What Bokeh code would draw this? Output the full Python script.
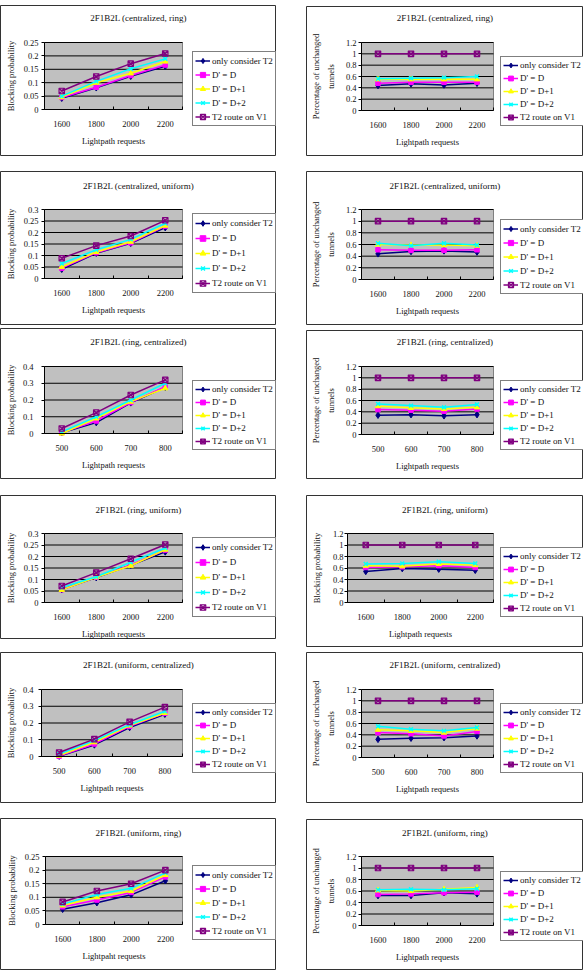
from bokeh.plotting import figure
from bokeh.models import (Range1d, FixedTicker, NumeralTickFormatter, LinearAxis,
                          Legend, LegendItem, Label, Spacer)
from bokeh.layouts import row, column
from bokeh.embed import file_html
from bokeh.resources import INLINE

# ---------------------------------------------------------------- data
SERIES = ["only consider T2", "D' = D", "D' = D+1", "D' = D+2", "T2 route on V1"]

REQUESTS_A = ["1600", "1800", "2000", "2200"]
REQUESTS_B = ["500", "600", "700", "800"]

TICKS_025 = [0, 0.05, 0.1, 0.15, 0.2, 0.25]
TICKS_03 = [0, 0.05, 0.1, 0.15, 0.2, 0.25, 0.3]
TICKS_04 = [0, 0.1, 0.2, 0.3, 0.4]
TICKS_12 = [0, 0.2, 0.4, 0.6, 0.8, 1, 1.2]

# each list holds the five series in SERIES order
centralized_ring_block = [
    [0.042, 0.081, 0.124, 0.161],
    [0.045, 0.083, 0.127, 0.166],
    [0.046, 0.100, 0.135, 0.179],
    [0.050, 0.105, 0.152, 0.189],
    [0.069, 0.123, 0.171, 0.209],
]
centralized_ring_unchanged = [
    [0.44, 0.47, 0.45, 0.48],
    [0.48, 0.50, 0.50, 0.50],
    [0.55, 0.55, 0.55, 0.55],
    [0.56, 0.57, 0.58, 0.60],
    [1.00, 1.00, 1.00, 1.00],
]
centralized_uniform_block = [
    [0.040, 0.110, 0.153, 0.221],
    [0.045, 0.112, 0.155, 0.228],
    [0.050, 0.115, 0.160, 0.230],
    [0.065, 0.125, 0.170, 0.240],
    [0.088, 0.143, 0.185, 0.253],
]
centralized_uniform_unchanged = [
    [0.44, 0.48, 0.49, 0.47],
    [0.51, 0.50, 0.50, 0.51],
    [0.60, 0.59, 0.59, 0.58],
    [0.62, 0.58, 0.62, 0.59],
    [1.00, 1.00, 1.00, 1.00],
]
ring_centralized_block = [
    [0.005, 0.065, 0.183, 0.276],
    [0.005, 0.075, 0.185, 0.280],
    [0.000, 0.090, 0.190, 0.270],
    [0.010, 0.100, 0.200, 0.300],
    [0.030, 0.125, 0.230, 0.320],
]
ring_centralized_unchanged = [
    [0.34, 0.35, 0.33, 0.35],
    [0.44, 0.43, 0.41, 0.45],
    [0.50, 0.47, 0.45, 0.48],
    [0.54, 0.51, 0.48, 0.53],
    [1.00, 1.00, 1.00, 1.00],
]
ring_uniform_block = [
    [0.056, 0.108, 0.162, 0.220],
    [0.056, 0.110, 0.163, 0.228],
    [0.055, 0.110, 0.160, 0.230],
    [0.065, 0.112, 0.175, 0.237],
    [0.072, 0.130, 0.190, 0.252],
]
ring_uniform_unchanged = [
    [0.54, 0.59, 0.58, 0.56],
    [0.61, 0.62, 0.64, 0.61],
    [0.64, 0.63, 0.67, 0.65],
    [0.67, 0.68, 0.71, 0.68],
    [1.00, 1.00, 1.00, 1.00],
]
uniform_centralized_block = [
    [0.002, 0.069, 0.173, 0.252],
    [0.002, 0.075, 0.180, 0.258],
    [0.005, 0.085, 0.185, 0.260],
    [0.015, 0.095, 0.190, 0.270],
    [0.024, 0.104, 0.207, 0.295],
]
uniform_centralized_unchanged = [
    [0.32, 0.34, 0.35, 0.38],
    [0.44, 0.42, 0.38, 0.46],
    [0.49, 0.47, 0.44, 0.51],
    [0.55, 0.50, 0.47, 0.53],
    [1.00, 1.00, 1.00, 1.00],
]
uniform_ring_block = [
    [0.056, 0.080, 0.109, 0.161],
    [0.065, 0.090, 0.118, 0.175],
    [0.070, 0.100, 0.123, 0.182],
    [0.075, 0.110, 0.133, 0.190],
    [0.083, 0.123, 0.150, 0.200],
]
uniform_ring_unchanged = [
    [0.52, 0.52, 0.57, 0.55],
    [0.54, 0.55, 0.57, 0.58],
    [0.61, 0.60, 0.63, 0.66],
    [0.62, 0.63, 0.62, 0.64],
    [1.00, 1.00, 1.00, 1.00],
]

# ---------------------------------------------------------------- styling
FONT = "Liberation Serif"
FS = "8.5px"
INK = "#111111"
STYLES = [
    dict(color="#000080", marker="diamond", size=6.5, lw=1, fill=1.0),
    dict(color="#FF00FF", marker="square", size=4.5, lw=1, fill=1.0),
    dict(color="#FFFF00", marker="triangle", size=5.5, lw=1, fill=1.0),
    dict(color="#00FFFF", marker="x", size=5.5, lw=1.5, fill=1.0),
    dict(color="#800080", marker="square_x", size=5.5, lw=1.1, fill=0.25),
]
BLOCK = "Blocking probability"
UNCH = "Percentage of unchanged\ntunnels"
XLAB = "Lightpath requests"


def chart(title, cats, xlabel, ylabel, ymax, ticks, data, w, h, pl, pr, pt, pb,
          lx, ltop, lbot, ty, s1, s2):
    ncat = len(cats)
    xpos = [i + 0.5 for i in range(ncat)]
    # the frame covers the whole chart box; the plot area is the band 0..ncat x 0..ymax
    kx = ncat / (pr - pl)
    ky = ymax / (pb - pt)
    p = figure(width=w, height=h, output_backend="svg", toolbar_location=None,
               x_range=Range1d(-pl * kx, (w - pl) * kx),
               y_range=Range1d(-(h - pb) * ky, ymax + pt * ky),
               x_axis_type=None, y_axis_type=None,
               min_border=0, min_border_left=0, min_border_right=0,
               min_border_top=0, min_border_bottom=0)
    p.background_fill_color = "white"
    p.border_fill_color = "white"
    p.outline_line_color = "#333333"
    p.outline_line_width = 1
    p.xgrid.visible = False
    p.ygrid.visible = False

    # gray plot area and its horizontal gridlines
    p.quad(left=0, right=ncat, bottom=0, top=ymax, fill_color="#C0C0C0",
           line_color="#808080", line_width=1)
    gl = [t for t in ticks if t > 0]
    p.segment(x0=[0] * len(gl), x1=[ncat] * len(gl), y0=gl, y1=gl,
              line_color="black", line_width=1)

    xa = LinearAxis(fixed_location=0, bounds=(0, ncat),
                    ticker=FixedTicker(ticks=xpos, minor_ticks=list(range(ncat + 1))),
                    major_label_overrides=dict(zip(xpos, cats)))
    xa.axis_label = xlabel
    xa.major_tick_line_color = None
    xa.major_tick_out = 0
    xa.major_tick_in = 0
    xa.minor_tick_line_color = "black"
    xa.minor_tick_in = 3
    xa.minor_tick_out = 0
    xa.major_label_standoff = 11
    xa.axis_label_standoff = 6

    ya = LinearAxis(fixed_location=0, bounds=(0, ymax), ticker=FixedTicker(ticks=ticks),
                    formatter=NumeralTickFormatter(format="0.[00]"))
    ya.axis_label = ylabel
    ya.minor_tick_line_color = None
    ya.major_tick_line_color = "black"
    ya.major_tick_out = 3
    ya.major_tick_in = 0
    ya.major_label_standoff = s1
    ya.axis_label_standoff = s2
    ya.axis_label_text_line_height = 1.5

    for ax in (xa, ya):
        ax.axis_line_color = "black"
        ax.major_label_text_font = FONT
        ax.major_label_text_font_size = FS
        ax.major_label_text_color = INK
        ax.axis_label_text_font = FONT
        ax.axis_label_text_font_size = FS
        ax.axis_label_text_font_style = "normal"
        ax.axis_label_text_color = INK
    p.add_layout(xa, "below")
    p.add_layout(ya, "left")

    items = []
    for name, ys, st in zip(SERIES, data, STYLES):
        lr = p.line(xpos, ys, line_color=st["color"], line_width=1.5)
        sr = p.scatter(xpos, ys, marker=st["marker"], size=st["size"],
                       line_color=st["color"], fill_color=st["color"],
                       fill_alpha=st["fill"], line_width=st["lw"])
        items.append(LegendItem(label=name, renderers=[lr, sr]))

    n = len(SERIES)
    pad, sp = 2, 1
    item_h = int(round((lbot - ltop - 2 * pad - (n - 1) * sp) / n))
    leg = Legend(items=items, location=(lx, h - lbot), margin=0, padding=pad,
                 spacing=sp, glyph_width=15, glyph_height=item_h, label_height=item_h,
                 label_standoff=2, border_line_color="black", border_line_width=1,
                 background_fill_color="white", background_fill_alpha=1,
                 label_text_font=FONT, label_text_font_size="9px", label_text_color=INK)
    p.add_layout(leg, "center")

    p.add_layout(Label(x=w / 2, y=h - ty, x_units="screen", y_units="screen",
                       text=title, text_align="center", text_baseline="middle",
                       text_font=FONT, text_font_size="9px", text_color=INK))
    return p


L = dict(w=276, pl=44, pr=182, lx=192, s1=3, s2=5)
R = dict(w=277, pl=55, pr=187, lx=194, s1=2, s2=7)

left_specs = [
    dict(L, title="2F1B2L (centralized, ring)", cats=REQUESTS_A, xlabel=XLAB, ylabel=BLOCK,
         ymax=0.25, ticks=TICKS_025, data=centralized_ring_block,
         h=151, pt=37, pb=104, ltop=50, lbot=121, ty=12),
    dict(L, title="2F1B2L (centralized, uniform)", cats=REQUESTS_A, xlabel=XLAB, ylabel=BLOCK,
         ymax=0.3, ticks=TICKS_03, data=centralized_uniform_block,
         h=154, pt=38, pb=107, ltop=46, lbot=122, ty=14),
    dict(L, title="2F1B2L (ring, centralized)", cats=REQUESTS_B, xlabel=XLAB, ylabel=BLOCK,
         ymax=0.4, ticks=TICKS_04, data=ring_centralized_block,
         h=151, pt=38, pb=105, ltop=52, lbot=122, ty=13, s1=8, s2=4),
    dict(L, title="2F1B2L (ring, uniform)", cats=REQUESTS_A, xlabel=XLAB, ylabel=BLOCK,
         ymax=0.3, ticks=TICKS_03, data=ring_uniform_block,
         h=144, pt=38, pb=107, ltop=46, lbot=122, ty=14),
    dict(L, title="2F1B2L (uniform, centralized)", cats=REQUESTS_B, xlabel=XLAB, ylabel=BLOCK,
         ymax=0.4, ticks=TICKS_04, data=uniform_centralized_block,
         h=151, pl=41, pt=37, pb=104, ltop=51, lbot=121, ty=12, s1=5, s2=4),
    dict(L, title="2F1B2L (uniform, ring)", cats=REQUESTS_A, xlabel="Lightpaht requests",
         ylabel=BLOCK, ymax=0.25, ticks=TICKS_025, data=uniform_ring_block,
         h=152, pl=45, pt=38, pb=106, ltop=47, lbot=122, ty=14),
]
right_specs = [
    dict(R, title="2F1B2L (centralized, ring)", cats=REQUESTS_A, xlabel=XLAB, ylabel=UNCH,
         ymax=1.2, ticks=TICKS_12, data=centralized_ring_unchanged,
         h=150, pt=36, pb=104, ltop=51, lbot=120, ty=11),
    dict(R, title="2F1B2L (centralized, uniform)", cats=REQUESTS_A, xlabel=XLAB, ylabel=UNCH,
         ymax=1.2, ticks=TICKS_12, data=centralized_uniform_unchanged,
         h=154, pt=38, pb=108, ltop=52, lbot=123, ty=14),
    dict(R, title="2F1B2L (ring, centralized)", cats=REQUESTS_B, xlabel=XLAB, ylabel=UNCH,
         ymax=1.2, ticks=TICKS_12, data=ring_centralized_unchanged,
         h=149, pt=36, pb=104, ltop=50, lbot=120, ty=11),
    dict(R, title="2F1B2L (ring, uniform)", cats=REQUESTS_A, xlabel=XLAB, ylabel=BLOCK,
         ymax=1.2, ticks=TICKS_12, data=ring_uniform_unchanged,
         h=152, pl=41, pt=38, pb=107, ltop=52, lbot=122, ty=14, s1=1, s2=8),
    dict(R, title="2F1B2L (uniform, centralized)", cats=REQUESTS_B, xlabel=XLAB, ylabel=UNCH,
         ymax=1.2, ticks=TICKS_12, data=uniform_centralized_unchanged,
         h=151, pt=37, pb=105, ltop=52, lbot=121, ty=12),
    dict(R, title="2F1B2L (uniform, ring)", cats=REQUESTS_A, xlabel=XLAB, ylabel=UNCH,
         ymax=1.2, ticks=TICKS_12, data=uniform_ring_unchanged,
         h=151, pt=37, pb=106, ltop=52, lbot=122, ty=13),
]

# vertical gaps above each chart box
left_gaps = [5, 15, 3, 16, 13, 15]
right_gaps = [6, 15, 5, 16, 5, 16]


def stack(specs, gaps):
    kids = []
    for spec, gap in zip(specs, gaps):
        kids.append(Spacer(width=10, height=gap))
        kids.append(chart(**spec))
    return column(*kids, spacing=0)


layout = row(stack(left_specs, left_gaps), Spacer(width=30, height=10),
             stack(right_specs, right_gaps), spacing=0)

open("out.html", "w").write(file_html(layout, INLINE))
